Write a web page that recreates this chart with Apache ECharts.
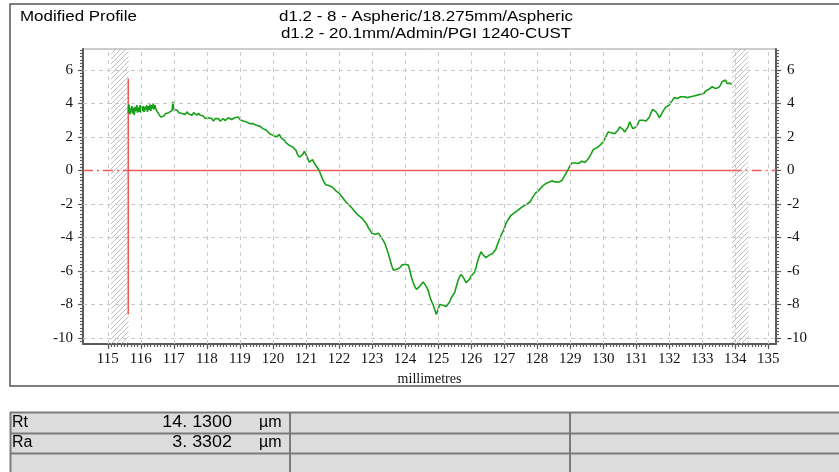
<!DOCTYPE html>
<html><head><meta charset="utf-8">
<script src="https://cdn.jsdelivr.net/npm/echarts@6/dist/echarts.min.js"></script>
<style>html,body{margin:0;padding:0;background:#fff}#c{width:839px;height:472px}</style>
</head><body><div id="c"></div>
<script>
// ---------- data ----------
const xTicks = [115,116,117,118,119,120,121,122,123,124,125,126,127,128,129,130,131,132,133,134,135];
const yTicks = [-10,-8,-6,-4,-2,0,2,4,6];
const yGrid = [-10,-8,-6,-4,-2,2,4,6];
const xRange = [114.25, 135.233];
const yRange = [-10.358, 7.254];
const hatchZones = [[115.1, 115.63], [133.9, 134.4]];
const refStart = 115.62;
const refEnd = 133.89;
const markerTop = 5.5;
const markerBottom = -8.6;
const titleMain = 'Modified Profile';
const titleLines = ['d1.2 - 8 - Aspheric/18.275mm/Aspheric', 'd1.2 - 20.1mm/Admin/PGI 1240-CUST'];
const xName = 'millimetres';
const tableRows = [['Rt', '14. 1300', 'µm'], ['Ra', '3. 3302', 'µm']];
const profile = [
 [115.62,3.45],[115.64,3.95],[115.67,3.35],[115.70,3.6],[115.73,3.85],[115.75,3.4],[115.78,3.75],[115.80,3.3],[115.83,3.8],[115.85,3.55],[115.88,3.9],[115.90,3.45],[115.93,3.75],[115.95,3.5],
 [115.98,3.9],[116.00,3.45],[116.03,3.8],[116.05,3.55],[116.08,3.85],[116.10,3.5],[116.13,3.8],[116.15,3.6],[116.18,3.9],[116.20,3.5],[116.23,3.85],[116.25,3.6],[116.28,3.95],[116.30,3.55],[116.33,3.9],[116.35,3.7],
 [116.38,4.0],[116.40,3.65],[116.43,3.9],[116.45,3.7],[116.48,3.8],[116.50,3.5],[116.55,3.35],[116.60,3.2],[116.65,3.3],[116.70,3.25],[116.75,3.4],
 [116.80,3.35],[116.85,3.45],[116.90,3.4],[116.95,3.6],[116.97,4.1],[117.00,3.65],[117.05,3.55],[117.10,3.6],
 [117.15,3.45],[117.20,3.55],[117.25,3.4],[117.30,3.5],[117.35,3.35],[117.40,3.5],[117.45,3.38],[117.50,3.45],
 [117.55,3.3],[117.60,3.45],[117.65,3.35],[117.70,3.3],[117.75,3.42],[117.80,3.3],[117.85,3.2],[117.90,3.25],
 [117.95,3.1],[118.00,3.05],[118.05,3.15],[118.10,3.05],[118.15,3.1],[118.20,2.95],[118.25,3.1],[118.30,3.0],
 [118.35,3.1],[118.40,2.95],[118.45,3.05],[118.50,3.1],[118.55,2.98],[118.60,3.05],[118.65,3.15],[118.70,3.25],
 [118.75,3.05],[118.80,3.0],[118.85,3.15],[118.90,3.1],[118.95,3.2],[119.00,3.05],[119.05,3.1],[119.10,2.95],
 [119.15,3.0],[119.20,2.9],[119.25,2.95],[119.30,2.8],[119.35,2.9],[119.40,2.8],[119.45,2.78],[119.50,2.7],
 [119.55,2.75],[119.60,2.65],[119.65,2.6],[119.70,2.5],[119.75,2.55],[119.80,2.4],[119.85,2.3],[119.90,2.2],
 [119.95,2.25],[120.00,2.1],[120.05,2.15],[120.10,2.0],[120.15,2.1],[120.20,2.15],[120.25,1.95],[120.30,1.85],
 [120.35,1.8],[120.40,1.65],[120.45,1.6],[120.50,1.5],[120.55,1.55],[120.60,1.4],[120.65,1.3],[120.70,1.2],
 [120.75,0.95],[120.80,0.8],[120.85,0.9],[120.90,0.95],[120.95,1.15],[121.00,1.05],[121.05,0.75],[121.10,0.5],
 [121.15,0.6],[121.20,0.65],[121.25,0.45],[121.30,0.3],[121.35,0.15],[121.40,0.0],[121.45,-0.25],[121.50,-0.5],
 [121.55,-0.7],[121.60,-0.85],[121.65,-0.8],[121.70,-0.9],[121.75,-0.92],[121.80,-1.0],[121.85,-1.05],[121.90,-1.2],
 [121.95,-1.25],[122.00,-1.35],[122.05,-1.45],[122.10,-1.6],[122.15,-1.7],[122.20,-1.85],[122.25,-1.9],[122.30,-2.05],
 [122.35,-2.1],[122.40,-2.25],[122.45,-2.35],[122.50,-2.5],[122.55,-2.55],[122.60,-2.7],[122.65,-2.75],[122.70,-2.85],
 [122.75,-2.95],[122.80,-3.1],[122.85,-3.25],[122.90,-3.45],[122.95,-3.6],[123.00,-3.75],[123.05,-3.7],[123.10,-3.8],
 [123.15,-3.72],[123.20,-3.75],[123.25,-3.9],[123.30,-4.05],[123.35,-4.2],[123.40,-4.4],[123.45,-4.7],[123.50,-5.0],
 [123.55,-5.35],[123.60,-5.7],[123.65,-5.95],[123.70,-6.0],[123.75,-5.9],[123.80,-5.95],[123.85,-5.8],[123.90,-5.65],
 [123.95,-5.55],[124.00,-5.6],[124.05,-5.5],[124.10,-5.65],[124.15,-6.0],[124.20,-6.4],[124.25,-6.7],[124.30,-6.95],
 [124.35,-7.1],[124.40,-7.05],[124.45,-6.9],[124.50,-6.8],[124.55,-6.65],[124.60,-6.7],[124.65,-6.95],[124.70,-7.15],
 [124.75,-7.5],[124.80,-7.8],[124.85,-8.0],[124.90,-8.3],[124.95,-8.6],[125.00,-8.3],[125.05,-8.0],[125.10,-7.95],
 [125.15,-8.05],[125.20,-8.0],[125.25,-8.12],[125.30,-8.1],[125.35,-7.85],[125.40,-7.6],[125.45,-7.45],[125.50,-7.3],
 [125.55,-6.95],[125.60,-6.6],[125.65,-6.35],[125.70,-6.2],[125.75,-6.35],[125.80,-6.5],[125.85,-6.7],[125.90,-6.75],
 [125.95,-6.5],[126.00,-6.3],[126.05,-6.2],[126.10,-6.1],[126.15,-5.8],[126.20,-5.4],[126.25,-5.1],[126.30,-4.85],
 [126.35,-5.0],[126.40,-5.1],[126.45,-5.2],[126.50,-5.15],[126.55,-5.05],[126.60,-5.05],[126.65,-4.95],[126.70,-5.0],
 [126.75,-4.7],[126.80,-4.4],[126.85,-4.15],[126.90,-3.9],[126.95,-3.7],[127.00,-3.5],[127.05,-3.2],[127.10,-3.0],
 [127.15,-2.85],[127.20,-2.7],[127.25,-2.65],[127.30,-2.55],[127.35,-2.45],[127.40,-2.4],[127.45,-2.3],[127.50,-2.25],
 [127.55,-2.2],[127.60,-2.1],[127.65,-2.0],[127.70,-2.0],[127.75,-1.9],[127.80,-1.85],[127.85,-1.65],[127.90,-1.5],
 [127.95,-1.35],[128.00,-1.25],[128.05,-1.2],[128.10,-1.1],[128.15,-0.95],[128.20,-0.9],[128.25,-0.8],[128.30,-0.75],
 [128.35,-0.7],[128.40,-0.7],[128.45,-0.62],[128.50,-0.6],[128.55,-0.68],[128.60,-0.65],[128.65,-0.7],[128.70,-0.75],
 [128.75,-0.6],[128.80,-0.5],[128.85,-0.25],[128.90,-0.15],[128.95,0.1],[129.00,0.3],[129.05,0.45],[129.10,0.55],
 [129.15,0.45],[129.20,0.5],[129.25,0.42],[129.30,0.45],[129.35,0.55],[129.40,0.5],[129.45,0.48],[129.50,0.55],
 [129.55,0.7],[129.60,0.8],[129.65,1.05],[129.70,1.25],[129.75,1.2],[129.80,1.35],[129.85,1.4],[129.90,1.5],
 [129.95,1.55],[130.00,1.7],[130.05,1.9],[130.10,2.1],[130.15,2.3],[130.20,2.35],[130.25,2.25],[130.30,2.3],
 [130.35,2.2],[130.40,2.15],[130.45,2.4],[130.50,2.6],[130.55,2.55],[130.60,2.45],[130.65,2.3],[130.70,2.35],
 [130.75,2.6],[130.80,2.9],[130.85,2.7],[130.90,2.5],[130.95,2.45],[131.00,2.6],[131.05,2.8],[131.10,3.0],
 [131.15,2.9],[131.20,3.0],[131.25,3.05],[131.30,2.95],[131.35,3.05],[131.40,3.2],[131.45,3.45],[131.50,3.65],
 [131.55,3.6],[131.60,3.5],[131.65,3.35],[131.70,3.15],[131.75,3.3],[131.80,3.5],[131.85,3.6],[131.90,3.8],
 [131.95,3.85],[132.00,3.9],[132.05,4.05],[132.10,4.2],[132.15,4.35],[132.20,4.4],[132.25,4.3],[132.30,4.3],
 [132.35,4.4],[132.40,4.3],[132.45,4.4],[132.50,4.4],[132.55,4.35],[132.60,4.45],[132.65,4.4],[132.70,4.5],
 [132.75,4.45],[132.80,4.55],[132.85,4.5],[132.90,4.6],[132.95,4.55],[133.00,4.65],[133.05,4.6],[133.10,4.75],
 [133.15,4.7],[133.20,4.85],[133.25,4.8],[133.30,5.0],[133.35,4.95],[133.40,4.9],[133.45,4.85],[133.50,4.95],
 [133.55,5.1],[133.60,5.3],[133.65,5.35],[133.70,5.4],[133.75,5.2],[133.80,5.1],[133.85,5.2],[133.89,5.15]
];

// ---------- minor tick positions ----------
const xMinor = [];
for (let i = 0; i <= 200; i++) xMinor.push(+(115 + i * 0.1).toFixed(2));
const yMinor = [];
for (let i = 0; i <= 87; i++) yMinor.push(+(-10.2 + i * 0.2).toFixed(2));

// ---------- hatch pattern ----------
const pc = document.createElement('canvas');
pc.width = 5; pc.height = 5;
const pctx = pc.getContext('2d');
pctx.strokeStyle = '#b8b8b8'; pctx.lineWidth = 0.9;
pctx.beginPath();
pctx.moveTo(0, 5); pctx.lineTo(5, 0);
pctx.moveTo(-1, 1); pctx.lineTo(1, -1);
pctx.moveTo(4, 6); pctx.lineTo(6, 4);
pctx.stroke();

const AX = '#5a5a5a';
const serif = 'Liberation Serif';
const sans = 'Liberation Sans';

function xAx(major) {
  return {
    type: 'value', min: xRange[0], max: xRange[1], position: 'bottom',
    axisLine: { show: major, onZero: false, lineStyle: { color: AX, width: 2 } },
    axisTick: { show: true, customValues: major ? xTicks : xMinor, length: major ? 5 : 3, lineStyle: { color: AX, width: 1.2 } },
    axisLabel: major ? { customValues: xTicks, fontFamily: serif, fontSize: 15, color: '#111', margin: 8 } : { show: false },
    splitLine: { show: false },
    name: major ? xName : '', nameLocation: 'middle', nameGap: 27,
    nameTextStyle: { fontFamily: serif, fontSize: 14, color: '#111' }
  };
}
function yAx(major, pos) {
  return {
    type: 'value', min: yRange[0], max: yRange[1], position: pos,
    axisLine: { show: major, onZero: false, lineStyle: { color: AX, width: 2 } },
    axisTick: { show: true, customValues: major ? yTicks : yMinor, length: major ? 5 : 3, lineStyle: { color: AX, width: 1.2 } },
    axisLabel: major ? { customValues: yTicks, fontFamily: serif, fontSize: 15, color: '#111', margin: pos === 'left' ? 10 : 11 } : { show: false },
    splitLine: { show: false }
  };
}

const chart = echarts.init(document.getElementById('c'), null, { renderer: 'canvas' });

const graphics = [
  { type: 'rect', shape: { x: 10, y: 4, width: 840, height: 382 }, style: { fill: 'none', stroke: '#555', lineWidth: 1.5 }, silent: true },
  { type: 'text', x: 20, y: 9, scaleX: 1.13, style: { text: titleMain, font: '15px "' + sans + '"', fill: '#000' } },
  { type: 'text', x: 426, y: 9, scaleX: 1.13, style: { text: titleLines[0], font: '15px "' + sans + '"', fill: '#000', textAlign: 'center' } },
  { type: 'text', x: 426, y: 26, scaleX: 1.13, style: { text: titleLines[1], font: '15px "' + sans + '"', fill: '#000', textAlign: 'center' } },
  // table
  { type: 'rect', shape: { x: 10, y: 412, width: 840, height: 70 }, style: { fill: '#dcdcdc' }, silent: true },
  { type: 'line', shape: { x1: 10, y1: 412.5, x2: 850, y2: 412.5 }, style: { stroke: '#7a7a7a', lineWidth: 2 } },
  { type: 'line', shape: { x1: 10, y1: 433.5, x2: 850, y2: 433.5 }, style: { stroke: '#7a7a7a', lineWidth: 2 } },
  { type: 'line', shape: { x1: 10, y1: 453.5, x2: 850, y2: 453.5 }, style: { stroke: '#7a7a7a', lineWidth: 2 } },
  { type: 'line', shape: { x1: 10.5, y1: 412, x2: 10.5, y2: 472 }, style: { stroke: '#7a7a7a', lineWidth: 2 } },
  { type: 'line', shape: { x1: 290, y1: 412, x2: 290, y2: 472 }, style: { stroke: '#7a7a7a', lineWidth: 2 } },
  { type: 'line', shape: { x1: 570, y1: 412, x2: 570, y2: 472 }, style: { stroke: '#7a7a7a', lineWidth: 2 } }
];
tableRows.forEach((r, i) => {
  const cy = 423 + i * 20;
  graphics.push({ type: 'text', x: 12, y: cy, style: { text: r[0], font: '16px "' + sans + '"', fill: '#000', textVerticalAlign: 'middle' } });
  graphics.push({ type: 'text', x: 232, y: cy, scaleX: 1.12, style: { text: r[1], font: '16px "' + sans + '"', fill: '#000', textAlign: 'right', textVerticalAlign: 'middle' } });
  graphics.push({ type: 'text', x: 259, y: cy, style: { text: r[2], font: '16px "' + sans + '"', fill: '#000', textVerticalAlign: 'middle' } });
});

const redColor = '#f25a5a';
const dashDot = [10, 4, 2, 4];

const option = {
  animation: false,
  backgroundColor: '#fff',
  grid: { left: 83, right: 63, top: 49, bottom: 128, show: true, borderColor: '#9a9a9a', borderWidth: 1, backgroundColor: 'transparent' },
  xAxis: [xAx(true), xAx(false)],
  yAxis: [yAx(true, 'left'), yAx(false, 'left'), yAx(true, 'right'), yAx(false, 'right')],
  graphic: graphics,
  series: [
    {
      name: 'grid', type: 'line', data: [], silent: true, z: 1,
      markLine: {
        silent: true, symbol: ['none', 'none'], label: { show: false }, animation: false,
        lineStyle: { type: [4, 4], color: '#c8c8c8', width: 1 },
        data: xTicks.map(v => ({ xAxis: v })).concat(yGrid.map(v => ({ yAxis: v })))
      }
    },
    {
      name: 'hatch', type: 'line', data: [], silent: true, z: 2,
      markArea: {
        silent: true,
        itemStyle: { color: { image: pc, repeat: 'repeat' }, opacity: 1 },
        data: hatchZones.map(z => [{ xAxis: z[0] }, { xAxis: z[1] }])
      }
    },
    { name: 'zeroLeft', type: 'line', data: [[xRange[0], 0], [refStart, 0]], showSymbol: false, silent: true, z: 3,
      lineStyle: { color: redColor, width: 1.5, type: dashDot } },
    { name: 'zeroRight', type: 'line', data: [[refEnd, 0], [xRange[1], 0]], showSymbol: false, silent: true, z: 3,
      lineStyle: { color: redColor, width: 1.5, type: dashDot } },
    { name: 'zero', type: 'line', data: [[refStart, 0], [refEnd, 0]], showSymbol: false, silent: true, z: 3,
      lineStyle: { color: redColor, width: 1.5, type: 'solid' } },
    { name: 'marker', type: 'line', data: [[refStart, markerTop], [refStart, markerBottom]], showSymbol: false, silent: true, z: 3,
      lineStyle: { color: redColor, width: 1.5, type: 'solid' } },
    { name: 'profile', type: 'line', data: profile, showSymbol: false, z: 4,
      lineStyle: { color: '#18a018', width: 1.6 } }
  ]
};
chart.setOption(option);
</script>
</body></html>
